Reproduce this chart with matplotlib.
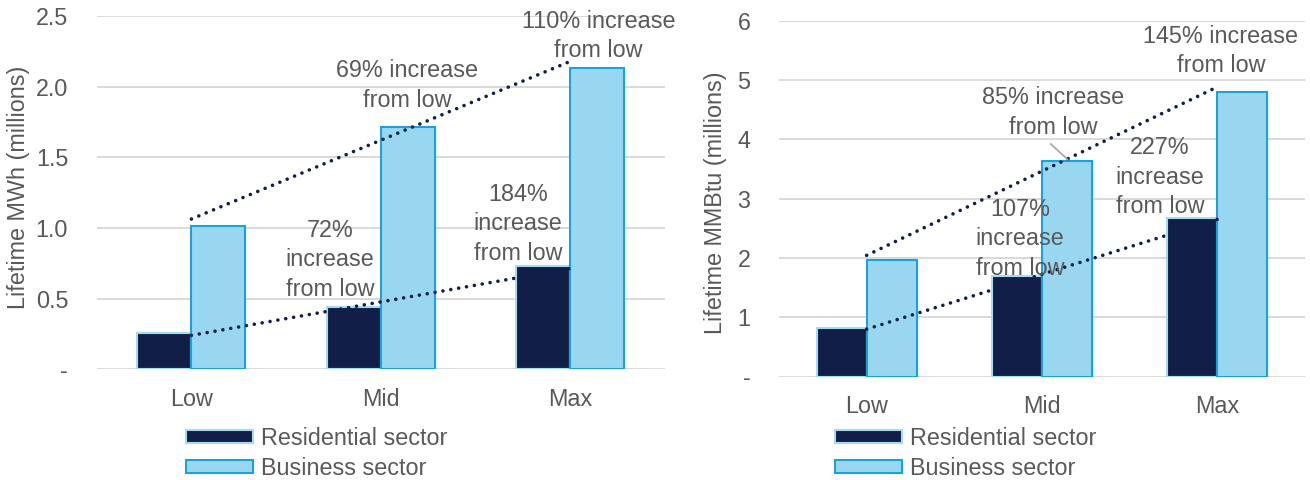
import numpy as np
import matplotlib
matplotlib.use("Agg")
import matplotlib.pyplot as plt

plt.rcParams['font.family'] = ['Liberation Sans', 'DejaVu Sans']

# ── Data ─────────────────────────────────────────────────────────────────────
scenarios = ["Low", "Mid", "Max"]
series_names = ["Residential sector", "Business sector"]

mwh_residential = [0.257, 0.443, 0.730]
mwh_business = [1.015, 1.716, 2.130]
mwh_ticks = [0, 0.5, 1.0, 1.5, 2.0, 2.5]

mmbtu_residential = [0.815, 1.690, 2.665]
mmbtu_business = [1.960, 3.630, 4.800]
mmbtu_ticks = [0, 1, 2, 3, 4, 5, 6]

mwh_notes = ["110% increase\nfrom low", "69% increase\nfrom low",
             "72%\nincrease\nfrom low", "184%\nincrease\nfrom low"]
mmbtu_notes = ["145% increase\nfrom low", "85% increase\nfrom low",
               "227%\nincrease\nfrom low", "107%\nincrease\nfrom low"]

# ── Styling ──────────────────────────────────────────────────────────────────
NAVY = "#111F48"
LIGHT = "#99D7F0"
BLUE_EDGE = "#1AA2DB"
PALE_EDGE = "#A4DBF2"
GRID = "#D9D9D9"
TEXT = "#595959"
FS = 16.8
W, H = 1310, 480
BAR_W = 0.285


def draw_panel(ax, res, bus, ticks, fmt, notes, note_xy):
    x = np.arange(len(scenarios))
    ax.bar(x - BAR_W / 2, res, BAR_W, color=NAVY, edgecolor=PALE_EDGE,
           linewidth=1.5, label=series_names[0], zorder=2)
    ax.bar(x + BAR_W / 2, bus, BAR_W, color=LIGHT, edgecolor=BLUE_EDGE,
           linewidth=1.5, label=series_names[1], zorder=2)

    # linear trendlines, like Excel
    for vals in (res, bus):
        k, b = np.polyfit(x, vals, 1)
        ax.plot([x[0], x[-1]], [b, k * x[-1] + b], color=NAVY, lw=2.6,
                linestyle=(0, (0.01, 2.2)), dash_capstyle="round", zorder=3)

    for txt, (tx, ty) in zip(notes, note_xy):
        ax.text(tx, ty, txt, ha="center", va="center", fontsize=FS,
                color=TEXT, linespacing=1.37, zorder=4)

    ax.set_xlim(-0.5, 2.5)
    ax.set_ylim(0, ticks[-1])
    ax.set_xticks(x)
    ax.set_xticklabels(scenarios)
    ax.set_yticks(ticks)
    ax.set_yticklabels(["-" if t == 0 else fmt.format(t) for t in ticks])
    ax.grid(axis="y", color=GRID, linewidth=1.4)
    ax.set_axisbelow(True)
    for s in ax.spines.values():
        s.set_visible(False)
    ax.tick_params(axis="y", length=0, pad=20.5, labelsize=FS, labelcolor=TEXT)
    ax.tick_params(axis="x", length=0, pad=13.5, labelsize=FS, labelcolor=TEXT)


fig = plt.figure(figsize=(W / 100, H / 100), dpi=100)

# ── Left panel: MWh ──
ax1 = fig.add_axes([96.7 / W, 1 - 369.3 / H, (665 - 96.7) / W, (369.3 - 15.8) / H])
draw_panel(ax1, mwh_residential, mwh_business, mwh_ticks, "{:.1f}", mwh_notes,
           [(2.148, 2.357), (1.14, 2.007), (0.731, 0.773), (1.723, 1.028)])
fig.text(19 / W, 1 - 187 / H, "Lifetime MWh (millions)", rotation=90,
         ha="center", va="center", fontsize=FS, color=TEXT)

# ── Right panel: MMBtu ──
ax2 = fig.add_axes([779 / W, 1 - 376.5 / H, (1305 - 779) / W, (376.5 - 20.7) / H])
draw_panel(ax2, mmbtu_residential, mmbtu_business, mmbtu_ticks, "{:.0f}", mmbtu_notes,
           [(2.02, 5.49), (1.062, 4.447), (1.674, 3.364), (0.874, 2.319)])
ax2.plot([1.050, 1.145], [3.921, 3.663], color="#A6A6A6", lw=1.2, zorder=3)
fig.text(715.7 / W, 1 - 203 / H, "Lifetime MMBtu (millions)", rotation=90,
         ha="center", va="center", fontsize=FS, color=TEXT)

# ── Legends ──
for ax, lx, ly in ((ax1, 186, 453.5), (ax2, 835, 453.5)):
    handles, labels = ax.get_legend_handles_labels()
    leg = fig.legend(handles, labels, loc="center left",
                     bbox_to_anchor=(lx / W, 1 - ly / H), frameon=False,
                     fontsize=FS, handlelength=2.85, handleheight=0.5,
                     handletextpad=0.36, labelspacing=0.31, borderpad=0,
                     borderaxespad=0)
    for t in leg.get_texts():
        t.set_color(TEXT)

plt.savefig("out.png", dpi=100, facecolor="white")
plt.close()
